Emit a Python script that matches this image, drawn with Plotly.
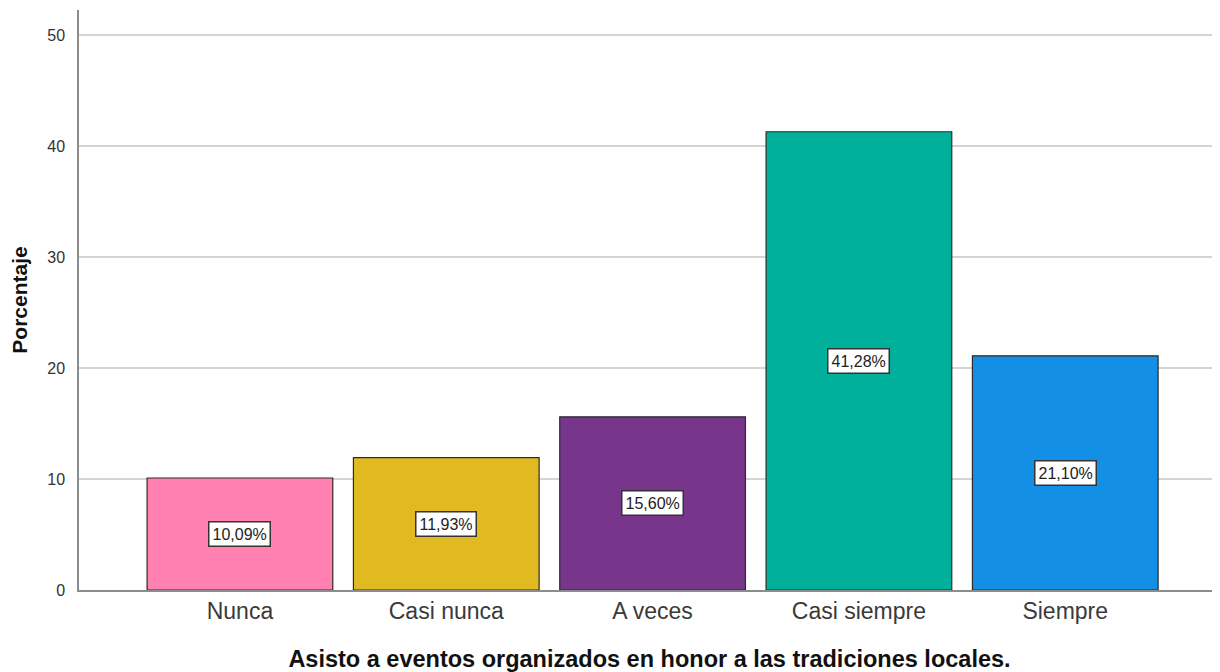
import plotly.graph_objects as go

# ── Data ─────────────────────────────────────────────────────────
CATEGORIES = ["Nunca", "Casi nunca", "A veces", "Casi siempre", "Siempre"]
PERCENTS = [10.09, 11.93, 15.60, 41.28, 21.10]
BAR_COLORS = ["#FF80B1", "#E1BA21", "#77368C", "#00B09B", "#1390E6"]

Y_TICKS = [0, 10, 20, 30, 40, 50]

FONT = "Liberation Sans, Arial, sans-serif"

fig = go.Figure()

fig.add_trace(go.Bar(
    x=CATEGORIES,
    y=PERCENTS,
    marker=dict(color=BAR_COLORS, line=dict(color="#2b2b2b", width=1.2)),
    width=0.9,
    hoverinfo="skip",
))

# Percentage labels in white boxes at bar mid-height
for cat, val in zip(CATEGORIES, PERCENTS):
    fig.add_annotation(
        x=cat,
        y=val / 2,
        text=f"{val:.2f}%".replace(".", ","),
        showarrow=False,
        font=dict(family=FONT, size=16, color="#222222"),
        bgcolor="white",
        bordercolor="#333333",
        borderwidth=1.5,
        borderpad=3,
    )

fig.update_layout(
    width=1212,
    height=664,
    paper_bgcolor="white",
    plot_bgcolor="white",
    margin=dict(l=71, r=0, t=2, b=82),
    showlegend=False,
    font=dict(family=FONT, color="#333333"),
    xaxis=dict(
        range=[-0.78, 4.75],
        showgrid=False,
        zeroline=False,
        showline=True,
        linecolor="#8c8c8c",
        linewidth=1.5,
        ticks="",
        tickfont=dict(size=23, color="#3a3a3a"),
        automargin=False,
        title=dict(
            text="<b>Asisto a eventos organizados en honor a las tradiciones locales.</b>",
            font=dict(size=23.5, color="#111111"),
            standoff=29,
        ),
    ),
    yaxis=dict(
        range=[0, 52.25],
        tickvals=Y_TICKS,
        showgrid=True,
        gridcolor="#d4d4d4",
        gridwidth=1.5,
        zeroline=False,
        showline=True,
        linecolor="#8c8c8c",
        linewidth=1.5,
        ticks="",
        tickfont=dict(size=16, color="#333333"),
        ticklabelstandoff=9,
        automargin=False,
        title=dict(
            text="<b>Porcentaje</b>",
            font=dict(size=21, color="#111111"),
            standoff=19,
        ),
    ),
)

fig.write_html("out.html")
